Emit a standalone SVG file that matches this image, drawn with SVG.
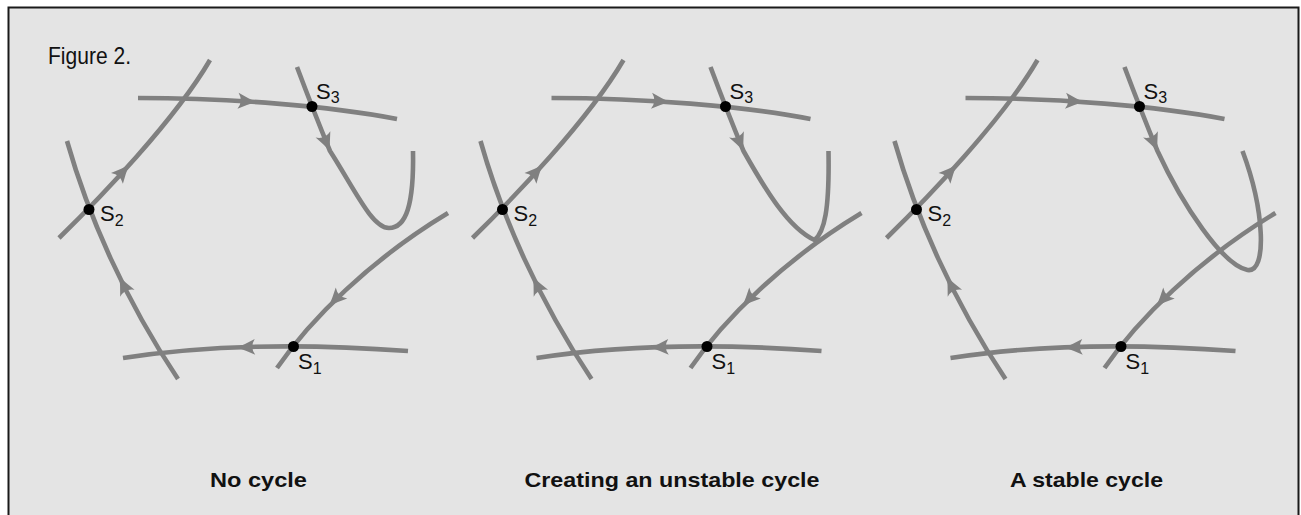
<svg xmlns="http://www.w3.org/2000/svg" xmlns:xlink="http://www.w3.org/1999/xlink" width="1301" height="515" viewBox="0 0 1301 515">
<style>
.flow{fill:none;stroke:#808080;stroke-width:4.6}
.ah{fill:#808080}
.dot{fill:#000}
.lbl{font-family:"Liberation Sans",Arial,sans-serif;font-size:22px;fill:#111}
.sub{font-size:16px}
.title{font-family:"Liberation Sans Narrow","Liberation Sans",Arial,sans-serif;font-size:24px;fill:#111}
.cap{font-family:"Liberation Sans",Arial,sans-serif;font-size:21px;font-weight:bold;fill:#111}
</style>
<defs>
<path id="ah" class="ah" d="M0,0 Q-8,-3 -18,-8 Q-12.5,0 -18,8 Q-8,3 0,0 Z"/>
</defs>
<rect x="8.5" y="7.5" width="1290" height="520" fill="#e4e4e4" stroke="#1a1a1a" stroke-width="2"/>
<text class="title" x="48" y="64" textLength="83" lengthAdjust="spacingAndGlyphs">Figure 2.</text>

<g id="panel1">
<g id="p1-connectors">
<path class="flow" d="M138,98 C230,98 330,106 397,119"/>
<path class="flow" d="M297,67 C303,83 318,122 330,151 C355,190 372,228 389,228 C406,228 414,205 413,151"/>
<path class="flow" d="M59,238 C100,198 175,120 210,60"/>
<path class="flow" d="M67,141 C88,215 125,300 178,379"/>
<path class="flow" d="M123,358 C200,346 300,343 408,351"/>
<path class="flow" d="M277,368 C310,320 370,260 448,213"/>
<use xlink:href="#ah" transform="translate(256,102) rotate(4)"/>
<use xlink:href="#ah" transform="translate(330,151) rotate(67)"/>
<use xlink:href="#ah" transform="translate(129,165) rotate(-48)"/>
<use xlink:href="#ah" transform="translate(119.5,277) rotate(-116)"/>
<use xlink:href="#ah" transform="translate(237,347.5) rotate(178)"/>
<use xlink:href="#ah" transform="translate(329,306) rotate(134)"/>
</g>
<g id="p1-s3"><circle class="dot" cx="312" cy="106.5" r="5.5"/><text class="lbl" x="316" y="99">S<tspan class="sub" dy="4">3</tspan></text></g>
<g id="p1-s2"><circle class="dot" cx="89" cy="209.5" r="5.5"/><text class="lbl" x="100" y="220.5">S<tspan class="sub" dy="5">2</tspan></text></g>
<g id="p1-s1"><circle class="dot" cx="293.5" cy="346.5" r="5.5"/><text class="lbl" x="298" y="368.5">S<tspan class="sub" dy="5">1</tspan></text></g>
</g>

<g id="panel2" transform="translate(413.5,0)">
<g id="p2-connectors">
<path class="flow" d="M138,98 C230,98 330,106 397,119"/>
<path class="flow" d="M297,67 C303,83 318,122 330,151 C352,190 375,228 401,240 C411,232 416,210 415,151"/>
<path class="flow" d="M59,238 C100,198 175,120 210,60"/>
<path class="flow" d="M67,141 C88,215 125,300 178,379"/>
<path class="flow" d="M123,358 C200,346 300,343 408,351"/>
<path class="flow" d="M277,368 C310,320 370,260 448,213"/>
<use xlink:href="#ah" transform="translate(256,102) rotate(4)"/>
<use xlink:href="#ah" transform="translate(330,151) rotate(67)"/>
<use xlink:href="#ah" transform="translate(129,165) rotate(-48)"/>
<use xlink:href="#ah" transform="translate(119.5,277) rotate(-116)"/>
<use xlink:href="#ah" transform="translate(237,347.5) rotate(178)"/>
<use xlink:href="#ah" transform="translate(329,306) rotate(134)"/>
</g>
<g id="p2-s3"><circle class="dot" cx="312" cy="106.5" r="5.5"/><text class="lbl" x="316" y="99">S<tspan class="sub" dy="4">3</tspan></text></g>
<g id="p2-s2"><circle class="dot" cx="89" cy="209.5" r="5.5"/><text class="lbl" x="100" y="220.5">S<tspan class="sub" dy="5">2</tspan></text></g>
<g id="p2-s1"><circle class="dot" cx="293.5" cy="346.5" r="5.5"/><text class="lbl" x="298" y="368.5">S<tspan class="sub" dy="5">1</tspan></text></g>
</g>

<g id="panel3" transform="translate(827.5,0)">
<g id="p3-connectors">
<path class="flow" d="M138,98 C230,98 330,106 397,119"/>
<path class="flow" d="M297,67 C303,83 318,122 330,151 C355,205 395,265 420,270 C440,273 437,210 415,151"/>
<path class="flow" d="M59,238 C100,198 175,120 210,60"/>
<path class="flow" d="M67,141 C88,215 125,300 178,379"/>
<path class="flow" d="M123,358 C200,346 300,343 408,351"/>
<path class="flow" d="M277,368 C310,320 370,260 448,213"/>
<use xlink:href="#ah" transform="translate(256,102) rotate(4)"/>
<use xlink:href="#ah" transform="translate(330,151) rotate(67)"/>
<use xlink:href="#ah" transform="translate(129,165) rotate(-48)"/>
<use xlink:href="#ah" transform="translate(119.5,277) rotate(-116)"/>
<use xlink:href="#ah" transform="translate(237,347.5) rotate(178)"/>
<use xlink:href="#ah" transform="translate(329,306) rotate(134)"/>
</g>
<g id="p3-s3"><circle class="dot" cx="312" cy="106.5" r="5.5"/><text class="lbl" x="316" y="99">S<tspan class="sub" dy="4">3</tspan></text></g>
<g id="p3-s2"><circle class="dot" cx="89" cy="209.5" r="5.5"/><text class="lbl" x="100" y="220.5">S<tspan class="sub" dy="5">2</tspan></text></g>
<g id="p3-s1"><circle class="dot" cx="293.5" cy="346.5" r="5.5"/><text class="lbl" x="298" y="368.5">S<tspan class="sub" dy="5">1</tspan></text></g>
</g>

<g id="captions">
<text class="cap" x="210" y="487" textLength="97" lengthAdjust="spacingAndGlyphs">No cycle</text>
<text class="cap" x="524.5" y="487" textLength="295" lengthAdjust="spacingAndGlyphs">Creating an unstable cycle</text>
<text class="cap" x="1010" y="487" textLength="153" lengthAdjust="spacingAndGlyphs">A stable cycle</text>
</g>
</svg>
